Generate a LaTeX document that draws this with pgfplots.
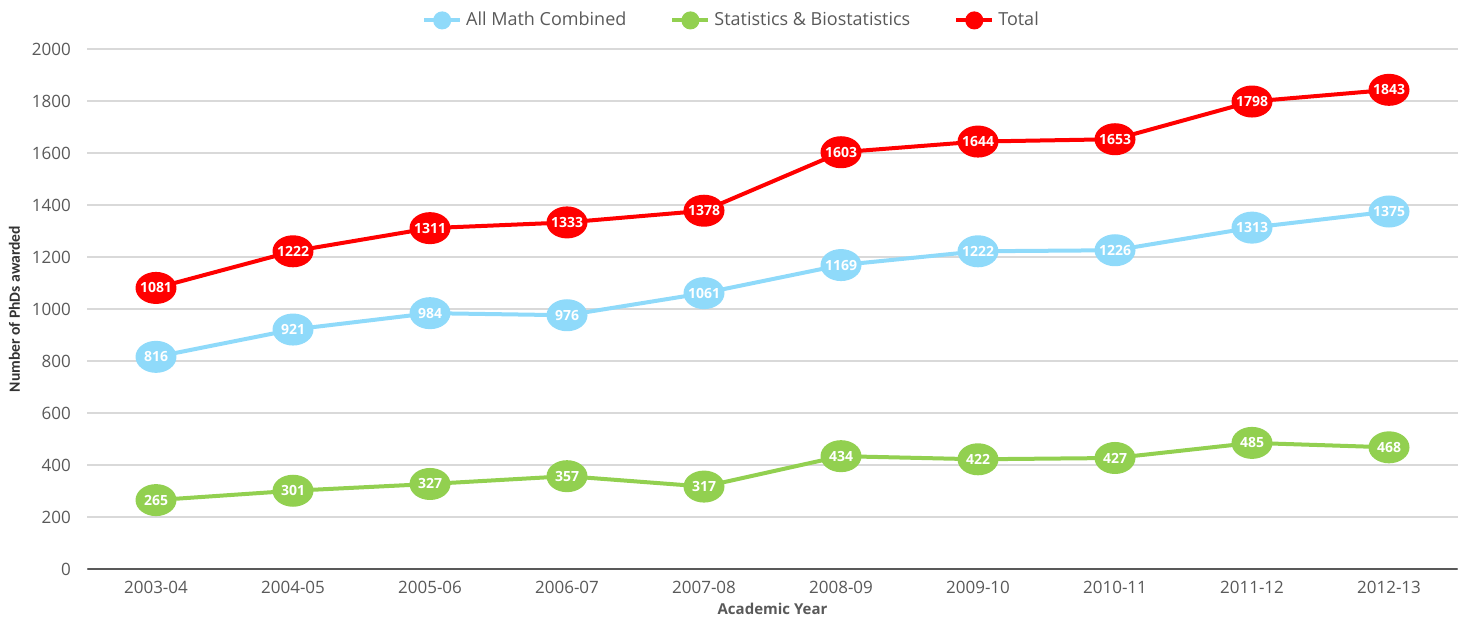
\documentclass[border=0pt]{standalone}
\usepackage{fontspec}
\setmainfont{Open Sans}
\newfontfamily\carlito{Carlito}
\usepackage{pgfplots}
\pgfplotsset{compat=1.18}
\definecolor{cmath}{RGB}{143,218,250}
\definecolor{cstat}{RGB}{146,208,80}
\definecolor{ctot}{RGB}{255,0,0}
\definecolor{txt}{RGB}{89,89,89}
\definecolor{grd}{RGB}{217,217,217}
\begin{document}
\begin{tikzpicture}
\useasboundingbox (-43.75pt,-23.5pt) rectangle (689.25pt,284.5pt);
\begin{axis}[
  at={(0pt,0pt)}, anchor=south west,
  scale only axis, width=685pt, height=260pt,
  xmin=-0.5, xmax=9.5, ymin=0, ymax=2000,
  xtick={0,...,9},
  xticklabels={2003-04,2004-05,2005-06,2006-07,2007-08,2008-09,2009-10,2010-11,2011-12,2012-13},
  ytick={0,200,...,2000},
  /pgf/number format/1000 sep={},
  /pgf/number format/assume math mode=true,
  axis line style={draw=none},
  major tick length=0pt,
  ymajorgrids, grid style={grd, line width=0.6pt},
  tick label style={font=\fontsize{8.5}{10}\selectfont, text=txt},
  yticklabel style={xshift=-4pt},
  xticklabel style={yshift=-2pt},
  xlabel={Academic Year}, ylabel={Number of PhDs awarded},
  every axis x label/.style={at={(axis description cs:0.5,-0.076)}, anchor=center, font=\fontsize{7.5}{9}\selectfont\bfseries, text=txt},
  every axis y label/.style={at={(axis description cs:-0.0533,0.5)}, anchor=center, rotate=90, font=\carlito\fontsize{7.8}{9}\selectfont\bfseries, text=black!80},
  legend columns=3,
  legend style={at={(0.4708,1.055)}, anchor=center, draw=none, fill=none,
    font=\fontsize{9}{11}\selectfont, text=txt, inner sep=0pt,
    /tikz/every even column/.append style={column sep=20pt}},
  legend cell align=left,
  legend image code/.code={\draw[mark repeat=2,mark phase=2,#1] plot coordinates {(0pt,0pt) (9pt,0pt) (18pt,0pt)};},
  nodes near coords,
  every node near coord/.append style={anchor=center, text=white, font=\fontsize{7}{8}\selectfont\bfseries},
  mark size=7pt,
  line width=2pt,
]
\draw[txt, line width=1.3pt] (axis cs:-0.5,0) -- (axis cs:9.5,0);
\addlegendimage{cmath, line width=2pt, mark=*, mark size=3.5pt}
\addlegendentry{All Math Combined}
\addlegendimage{cstat, line width=2pt, mark=*, mark size=3.5pt}
\addlegendentry{Statistics \& Biostatistics}
\addlegendimage{ctot, line width=2pt, mark=*, mark size=3.5pt}
\addlegendentry{Total}
\addplot[forget plot, ctot, mark=*, mark options={xscale=1.32}] coordinates {
(0,1081) (1,1222) (2,1311) (3,1333) (4,1378) (5,1603) (6,1644) (7,1653) (8,1798) (9,1843)};
\addplot[forget plot, cmath, mark=*, mark options={xscale=1.32}] coordinates {
(0,816) (1,921) (2,984) (3,976) (4,1061) (5,1169) (6,1222) (7,1226) (8,1313) (9,1375)};
\addplot[forget plot, cstat, mark=*, mark options={xscale=1.32}] coordinates {
(0,265) (1,301) (2,327) (3,357) (4,317) (5,434) (6,422) (7,427) (8,485) (9,468)};
\end{axis}
\end{tikzpicture}
\end{document}
